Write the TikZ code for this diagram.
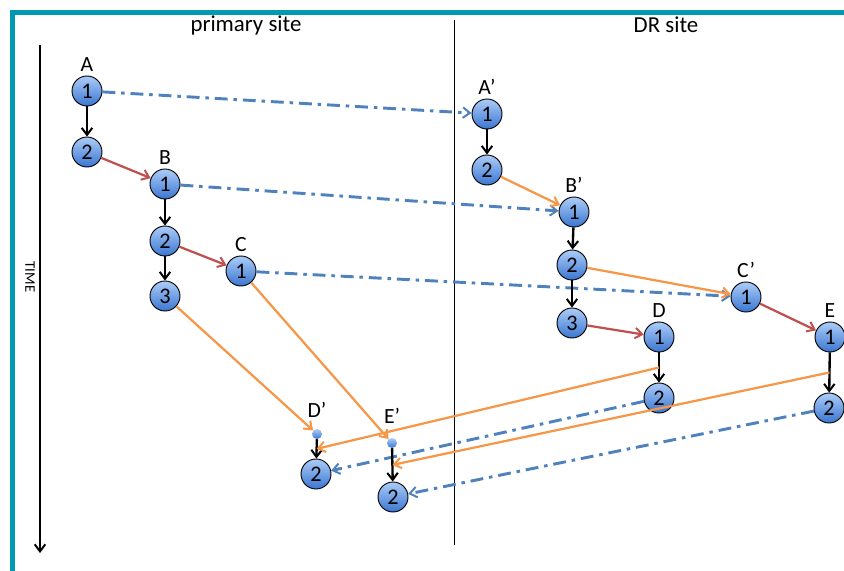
\documentclass[tikz,border=0pt]{standalone}
\usepackage{fontspec}
\setmainfont{Carlito}
\usetikzlibrary{arrows.meta,calc}

\definecolor{frameteal}{RGB}{0,152,178}
\definecolor{linkred}{RGB}{192,80,77}
\definecolor{linkorange}{RGB}{247,150,70}
\definecolor{linkblue}{RGB}{79,129,189}
\definecolor{balltop}{RGB}{172,204,248}
\definecolor{ballbottom}{RGB}{58,118,208}

\tikzset{
  every label/.style={font=\fontsize{18.5}{22}\selectfont},
  ball/.style={circle, draw=black, line width=0.8pt, top color=balltop,
    bottom color=ballbottom, minimum size=0.9cm, inner sep=0pt,
    font=\fontsize{19}{22}\selectfont, label distance=2pt},
  dotball/.style={circle, draw=none, top color=balltop, bottom color=ballbottom,
    minimum size=0.3cm, inner sep=0pt},
  tip/.style={-{Straight Barb[length=6pt,width=9pt,line width=1.7pt]}},
  seq/.style={tip, line width=2pt, black},
  hop/.style={tip, line width=1.9pt, linkred},
  ship/.style={tip, line width=1.9pt, linkorange},
  repl/.style={tip, line width=2.5pt, linkblue,
    dash pattern=on 11pt off 5pt on 3pt off 5pt},
}

\begin{document}
\begin{tikzpicture}[x=0.03cm, y=-0.03cm]

    % --- Frame ---
    \useasboundingbox (0,0) rectangle (844,571);
    \draw[frameteal, line width=4.3pt] (12.5,571) -- (12.5,12.5) -- (846,12.5);

    % --- Sites and time axis ---
    \node[font=\fontsize{19.5}{23}\selectfont] (primary) at (246,25) {primary site};
    \node[font=\fontsize{19.5}{23}\selectfont] (drsite) at (666,25) {DR site};
    \coordinate (divtop) at (454,20);
    \coordinate (divbot) at (454,545);
    \draw[line width=0.6pt] (divtop) -- (divbot);

    \coordinate (timetop) at (40,45);
    \coordinate (timebot) at (40,553);
    \draw[seq, line width=2.2pt] (timetop) -- (timebot);
    \node[rotate=-90, font=\fontsize{12.5}{14}\selectfont] (timelbl) at (30,277) {TIME};

    % --- Primary site ---
    \node[ball, label=above:A] (a1) at (87,91) {1};
    \node[ball] (a2) at (87,152) {2};
    \node[ball, label=above:B] (b1) at (165,184) {1};
    \node[ball] (b2) at (165,241) {2};
    \node[ball] (b3) at (165,296) {3};
    \node[ball, label=above:C] (c1) at (241,271) {1};

    \node[dotball, label={[label distance=6pt]above:D'}] (dp) at (317,434) {};
    \node[ball] (dp2) at (316,474) {2};
    \node[dotball, label={[label distance=9pt]above:E'}] (ep) at (392,443) {};
    \node[ball] (ep2) at (393,497) {2};

    % --- DR site ---
    \node[ball, label=above:A'] (ap1) at (487,114) {1};
    \node[ball] (ap2) at (487,170) {2};
    \node[ball, label=above:B'] (bp1) at (574,212) {1};
    \node[ball] (bp2) at (572,265) {2};
    \node[ball] (bp3) at (572,323) {3};
    \node[ball, label=above:C'] (cp1) at (746,297) {1};
    \node[ball, label=above:D] (d1) at (659,337) {1};
    \node[ball] (d2) at (659,398) {2};
    \node[ball, label=above:E] (e1) at (830,337) {1};
    \node[ball] (e2) at (829,408) {2};

    % --- Replication (dash-dot) ---
    \draw[repl] (a1) -- (ap1);
    \draw[repl] (b1) -- (bp1);
    \draw[repl] (c1) -- (cp1);
    \draw[repl] (d2) -- (dp2);
    \draw[repl] (e2) -- (ep2);

    % --- Sequence steps ---
    \foreach \u/\v in {a1/a2, b1/b2, b2/b3, ap1/ap2, bp1/bp2, bp2/bp3, d1/d2, e1/e2, dp/dp2, ep/ep2}
        \draw[seq] (\u) -- (\v);

    \foreach \u/\v in {a2/b1, b2/c1, bp3/d1, cp1/e1}
        \draw[hop] (\u) -- (\v);

    \foreach \u/\v in {b3/dp, c1/ep, ap2/bp1, bp2/cp1}
        \draw[ship] (\u) -- (\v);

    % --- Back to primary ---
    \coordinate (dmid) at ($(d1.south)!0.5!(d2.north)$);
    \coordinate (emid) at ($(e1.south)!0.5!(e2.north)$);
    \coordinate (dpmid) at ($(dp.south)!0.5!(dp2.north)$);
    \coordinate (epmid) at ($(ep.south)!0.5!(ep2.north)$);
    \draw[ship] (dmid) -- (dpmid);
    \draw[ship] (emid) -- (epmid);

\end{tikzpicture}
\end{document}
